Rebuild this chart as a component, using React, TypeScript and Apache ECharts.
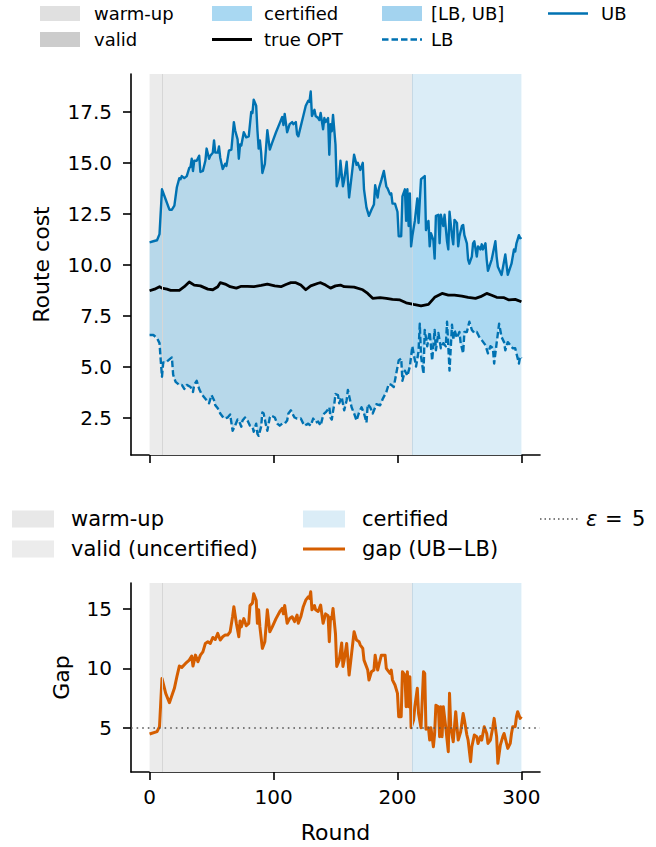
import React, { useEffect, useRef } from 'react';
import * as echarts from 'echarts';

// ---------- data ----------
const xTicks = [0, 100, 200, 300];
const costTicks = [2.5, 5, 7.5, 10, 12.5, 15, 17.5];
const gapTicks = [5, 10, 15];

const warmupEnd = 10;
const certifiedStart = 212;
const lastRound = 300;
const epsilon = 5;

const ubRound = [0, 3, 6, 8, 10, 13, 16, 18, 20, 22, 24, 25, 26, 28, 30, 32, 33, 34, 35, 36, 38, 40, 41, 43, 45, 46, 48, 49, 51, 52, 53, 55, 56, 57, 59, 61, 62, 64, 66, 68, 69, 71, 72, 73, 74, 76, 78, 80, 82, 83, 84, 86, 87, 88, 89, 90, 91, 93, 95, 97, 99, 102, 105, 107, 108, 109, 111, 113, 115, 116, 118, 119, 120, 122, 124, 126, 128, 129, 130, 131, 133, 134, 136, 137, 138, 140, 141, 142, 144, 145, 146, 147, 148, 150, 151, 153, 154, 156, 157, 159, 161, 163, 165, 167, 168, 170, 172, 173, 175, 177, 179, 181, 182, 184, 185, 187, 189, 191, 192, 194, 195, 196, 198, 200, 201, 203, 204, 206, 207, 208, 209, 210, 211, 212, 214, 216, 217, 219, 221, 222, 223, 225, 226, 227, 229, 230, 231, 233, 234, 235, 237, 238, 240, 241, 242, 244, 245, 246, 248, 249, 250, 252, 253, 254, 256, 257, 258, 260, 261, 262, 264, 265, 267, 268, 269, 271, 272, 273, 276, 279, 280, 281, 284, 287, 289, 292, 294, 295, 296, 298, 299, 300];
const ubValue = [11.1, 11.15, 11.2, 11.5, 13.7, 13.2, 12.7, 12.7, 12.9, 13.8, 14.25, 14.2, 14.35, 14.25, 14.35, 14.75, 14.8, 15.2, 14.6, 15.1, 15.1, 15.35, 14.55, 14.6, 15.1, 15.7, 15.2, 15.35, 15.5, 16.1, 15.5, 15.5, 15.8, 15.25, 14.7, 14.95, 14.85, 15.6, 15.65, 17.0, 16.6, 16.15, 15.2, 15.9, 15.85, 16.5, 16.25, 16.3, 17.5, 17.45, 18.1, 17.8, 16.6, 15.7, 16.1, 15.5, 14.5, 14.95, 16.6, 15.65, 16.0, 16.5, 16.95, 17.25, 16.85, 17.4, 16.5, 16.9, 17.0, 16.9, 17.0, 16.4, 16.3, 16.8, 17.3, 17.8, 18.05, 18.0, 18.5, 17.3, 17.6, 17.3, 17.2, 17.1, 17.45, 16.65, 17.2, 17.0, 17.2, 15.4, 16.9, 16.55, 17.35, 15.9, 13.85, 14.3, 15.1, 13.85, 14.15, 15.05, 13.3, 14.35, 15.4, 14.9, 15.0, 14.65, 15.0, 13.7, 12.8, 12.4, 12.7, 12.95, 13.9, 13.3, 13.75, 14.15, 14.6, 13.85, 13.75, 13.45, 13.5, 13.0, 13.0, 12.6, 11.4, 11.4, 13.35, 13.7, 12.15, 13.7, 11.9, 13.5, 10.9, 11.4, 12.15, 13.25, 12.05, 14.2, 14.3, 14.35, 11.7, 12.15, 10.9, 11.55, 11.2, 10.3, 12.4, 12.45, 11.05, 12.45, 11.9, 12.45, 11.15, 10.75, 12.6, 11.4, 11.0, 12.2, 12.05, 10.9, 11.4, 11.9, 11.95, 11.45, 11.05, 10.25, 10.05, 10.4, 11.05, 11.15, 10.4, 10.9, 10.75, 11.0, 10.75, 11.05, 10.25, 9.7, 10.25, 11.15, 10.4, 9.9, 9.5, 10.5, 9.5, 10.05, 10.75, 10.65, 11.05, 11.45, 11.3, 11.35];

const lbRound = [0, 3, 6, 8, 9, 10, 11, 13, 16, 18, 19, 21, 24, 26, 28, 30, 33, 35, 36, 38, 40, 42, 44, 46, 48, 50, 52, 53, 55, 57, 60, 63, 65, 67, 69, 71, 72, 74, 75, 77, 79, 81, 83, 84, 86, 87, 88, 90, 91, 92, 94, 95, 97, 98, 101, 103, 105, 107, 109, 111, 112, 114, 116, 117, 119, 122, 124, 125, 128, 130, 132, 134, 136, 138, 140, 141, 142, 144, 145, 146, 147, 148, 149, 150, 152, 153, 154, 155, 157, 159, 160, 163, 165, 167, 169, 171, 173, 175, 176, 178, 180, 183, 186, 188, 191, 193, 195, 197, 199, 201, 203, 204, 206, 208, 210, 212, 213, 215, 217, 218, 219, 221, 222, 224, 226, 228, 230, 231, 233, 235, 237, 239, 240, 242, 244, 245, 246, 248, 250, 251, 253, 254, 256, 258, 260, 262, 264, 266, 268, 271, 273, 275, 277, 278, 280, 282, 284, 286, 287, 289, 291, 293, 295, 296, 298, 299, 300];
const lbValue = [6.55, 6.55, 6.4, 6.15, 5.3, 4.5, 5.2, 5.2, 5.35, 5.45, 4.6, 4.25, 4.1, 4.1, 3.9, 4.1, 4.0, 3.75, 4.1, 4.3, 3.9, 3.65, 3.5, 3.35, 3.2, 3.6, 3.35, 3.1, 2.95, 2.7, 2.45, 2.5, 2.65, 1.85, 2.1, 2.4, 2.35, 2.05, 2.35, 2.5, 2.35, 2.1, 2.05, 1.8, 2.2, 1.7, 1.6, 2.05, 2.75, 2.7, 2.1, 1.85, 2.5, 2.6, 2.5, 2.2, 2.1, 2.2, 2.2, 2.35, 2.7, 2.85, 2.6, 2.5, 2.45, 2.45, 2.2, 2.1, 2.2, 2.1, 2.45, 2.25, 2.3, 2.1, 2.6, 2.7, 2.75, 2.9, 3.0, 2.5, 2.4, 2.8, 3.15, 3.65, 3.6, 3.2, 3.35, 3.5, 2.85, 3.35, 3.85, 3.0, 2.7, 2.35, 2.75, 3.0, 2.7, 2.25, 3.15, 3.0, 2.7, 3.15, 3.1, 3.4, 3.75, 4.15, 4.1, 4.0, 4.65, 5.3, 5.4, 4.3, 4.8, 4.55, 5.0, 6.0, 5.65, 5.0, 5.75, 7.1, 5.5, 4.65, 6.8, 6.0, 6.7, 5.3, 6.8, 5.8, 6.65, 5.9, 6.15, 6.0, 7.2, 4.8, 7.05, 6.3, 6.8, 6.4, 6.7, 6.15, 5.65, 6.7, 6.7, 7.2, 6.8, 6.65, 6.7, 6.45, 6.3, 6.05, 5.65, 6.0, 5.9, 5.15, 6.15, 7.1, 6.45, 6.2, 5.8, 6.2, 6.05, 5.9, 5.9, 5.65, 5.15, 5.5, 5.4];

const optRound = [0, 4, 8, 10, 14, 17, 24, 28, 32, 36, 41, 47, 51, 55, 57, 61, 65, 70, 74, 79, 84, 90, 95, 101, 106, 110, 114, 118, 122, 126, 130, 136, 138, 142, 146, 150, 154, 157, 165, 172, 176, 180, 186, 191, 196, 202, 207, 213, 219, 225, 230, 236, 241, 246, 252, 257, 263, 267, 272, 276, 280, 286, 290, 295, 300];
const optValue = [8.72, 8.8, 8.92, 8.85, 8.8, 8.74, 8.74, 8.92, 9.15, 9.0, 8.96, 8.8, 8.77, 8.92, 9.12, 9.05, 8.92, 8.85, 8.94, 8.94, 8.92, 8.98, 9.05, 8.96, 8.92, 9.03, 9.12, 9.12, 9.0, 8.77, 8.96, 9.09, 9.12, 9.0, 8.85, 8.96, 9.0, 8.92, 8.9, 8.77, 8.59, 8.35, 8.38, 8.35, 8.3, 8.27, 8.13, 8.05, 7.98, 8.05, 8.4, 8.59, 8.51, 8.51, 8.46, 8.4, 8.35, 8.43, 8.59, 8.5, 8.4, 8.38, 8.27, 8.3, 8.18];

const gapRound = [0, 6, 8, 10, 13, 16, 20, 22, 24, 26, 29, 32, 34, 35, 37, 39, 41, 43, 45, 47, 49, 51, 53, 55, 57, 59, 61, 63, 65, 67, 68, 70, 72, 73, 74, 76, 78, 80, 81, 83, 84, 86, 87, 88, 89, 91, 93, 95, 97, 99, 102, 105, 107, 108, 109, 111, 113, 115, 117, 119, 120, 122, 124, 126, 128, 129, 130, 131, 133, 134, 136, 137, 138, 140, 142, 144, 145, 146, 147, 148, 150, 151, 153, 155, 156, 157, 159, 161, 163, 165, 167, 169, 170, 172, 173, 176, 177, 179, 181, 182, 184, 186, 187, 190, 191, 192, 194, 195, 196, 198, 200, 201, 203, 204, 206, 207, 208, 209, 210, 211, 213, 214, 216, 217, 219, 221, 222, 223, 225, 226, 227, 229, 230, 231, 233, 234, 235, 236, 237, 239, 241, 242, 243, 245, 247, 248, 249, 251, 253, 254, 256, 257, 259, 260, 262, 264, 265, 267, 268, 270, 272, 273, 275, 277, 278, 280, 281, 283, 285, 286, 288, 289, 291, 292, 293, 295, 296, 297, 299, 300];
const gapValue = [4.47, 4.67, 5.09, 9.16, 7.9, 7.11, 8.32, 9.3, 10.2, 10.09, 10.42, 10.7, 11.04, 10.2, 11.12, 10.56, 11.12, 11.4, 12.11, 12.25, 12.11, 12.61, 12.44, 12.95, 12.39, 12.67, 12.81, 12.81, 13.09, 14.4, 15.2, 13.8, 12.67, 14.0, 13.5, 14.2, 13.6, 13.8, 15.3, 15.5, 16.3, 15.75, 13.8, 14.94, 13.5, 11.69, 12.25, 14.94, 13.09, 13.5, 14.2, 14.78, 15.06, 14.6, 15.3, 13.8, 14.2, 14.35, 13.95, 14.5, 13.8, 14.35, 15.2, 15.75, 16.03, 15.9, 16.46, 14.94, 15.3, 14.94, 14.8, 15.06, 15.34, 13.8, 14.6, 14.45, 12.25, 14.3, 14.2, 15.06, 12.9, 10.16, 10.7, 12.15, 10.16, 10.7, 12.11, 9.44, 11.27, 13.09, 12.39, 12.25, 11.97, 11.69, 10.7, 9.86, 9.02, 9.72, 9.86, 11.12, 9.86, 10.7, 11.12, 11.12, 10.0, 9.86, 9.58, 9.86, 9.02, 8.6, 7.9, 5.93, 5.93, 9.72, 9.44, 6.77, 9.72, 6.77, 9.3, 5.0, 5.65, 6.77, 8.32, 6.2, 5.0, 9.72, 9.58, 4.88, 5.0, 3.96, 5.0, 3.4, 4.5, 6.9, 6.77, 4.25, 6.77, 4.25, 6.77, 5.0, 2.98, 7.9, 5.09, 3.82, 6.35, 5.09, 3.96, 4.66, 6.2, 5.65, 4.39, 3.96, 2.14, 3.4, 4.39, 4.25, 3.68, 4.25, 3.96, 5.09, 4.52, 3.68, 3.96, 5.09, 5.79, 4.25, 2.0, 3.54, 4.25, 4.52, 3.68, 3.26, 3.68, 4.52, 5.09, 5.09, 5.93, 6.35, 5.79, 5.93];

// ---------- styling ----------
const FONT = 'DejaVu Sans';
const BLUE = '#0072B2';
const ORANGE = '#D55E00';
const GRAY_BG = '#ebebeb';
const CERT_BG = '#dbedf7';

const pairs = (xs: number[], ys: number[]) => xs.map((x, i) => [x, ys[i]]);

export default function App() {
  const ref = useRef<HTMLDivElement>(null);

  useEffect(() => {
    if (!ref.current) return;
    const chart = echarts.init(ref.current, null, { renderer: 'svg' });

    const ub = pairs(ubRound, ubValue);
    const lb = pairs(lbRound, lbValue);
    const opt = pairs(optRound, optValue);
    const gap = pairs(gapRound, gapValue);

    const spine = { color: '#000', width: 1.6 };

    const regionAreas = [
      [{ xAxis: 0, itemStyle: { color: GRAY_BG } }, { xAxis: warmupEnd }],
      [{ xAxis: warmupEnd, itemStyle: { color: GRAY_BG } }, { xAxis: certifiedStart }],
      [{ xAxis: certifiedStart, itemStyle: { color: CERT_BG } }, { xAxis: lastRound }],
    ];
    const regionLines = [
      { xAxis: warmupEnd, lineStyle: { color: '#d6d6d6', width: 1, type: 'solid' } },
      { xAxis: certifiedStart, lineStyle: { color: '#c6d9e5', width: 1, type: 'solid' } },
    ];

    const bgSeries = (idx: number) => ({
      type: 'line',
      xAxisIndex: idx,
      yAxisIndex: idx,
      data: [[150, idx === 0 ? 10 : 8]],
      symbol: 'none',
      lineStyle: { opacity: 0 },
      silent: true,
      z: 1,
      markArea: { silent: true, data: regionAreas },
      markLine: { silent: true, symbol: 'none', label: { show: false }, data: regionLines },
    });

    const xAxisBase = (idx: number, labels: boolean) => ({
      gridIndex: idx,
      type: 'value',
      min: -15,
      max: 315,
      axisLine: { show: true, onZero: false, lineStyle: spine },
      axisTick: { show: true, length: 8, lineStyle: spine, customValues: xTicks },
      axisLabel: {
        show: labels,
        customValues: xTicks,
        fontSize: 20,
        fontFamily: FONT,
        color: '#000',
        margin: 15,
      },
      splitLine: { show: false },
    });

    const text = (x: number, y: number, s: string, size: number, extra: any = {}) => ({
      type: 'text',
      x,
      y,
      silent: true,
      style: {
        text: s,
        fontSize: size,
        fontFamily: FONT,
        fill: '#000',
        textAlign: 'left',
        textVerticalAlign: 'middle',
        ...(extra.style || {}),
      },
      ...(extra.el || {}),
    });
    const rect = (x: number, y: number, w: number, h: number, fill: string) => ({
      type: 'rect',
      silent: true,
      shape: { x, y, width: w, height: h },
      style: { fill },
    });
    const seg = (x1: number, x2: number, y: number, stroke: string, lw: number, dash?: number[]) => ({
      type: 'line',
      silent: true,
      shape: { x1, y1: y, x2, y2: y },
      style: { stroke, lineWidth: lw, lineDash: dash || null },
    });

    // top legend (4 columns x 2 rows)
    const tr1 = 13.5;
    const tr2 = 39.5;
    const tSz = 18;
    const topLegend = [
      rect(40, tr1 - 7.5, 40, 15, '#e0e0e0'),
      text(94, tr1, 'warm-up', tSz),
      rect(40, tr2 - 7.5, 40, 15, '#cccccc'),
      text(94, tr2, 'valid', tSz),
      rect(212, tr1 - 7.5, 40, 15, '#a9d8f2'),
      text(264, tr1, 'certified', tSz),
      seg(212, 252, tr2, '#000', 2.8),
      text(264, tr2, 'true OPT', tSz),
      rect(382, tr1 - 7.5, 40, 15, '#a3d3ef'),
      text(431, tr1, '[LB, UB]', tSz),
      seg(382, 422, tr2, BLUE, 2.4, [6.5, 3]),
      text(431, tr2, 'LB', tSz),
      seg(548, 588, tr1, BLUE, 2.4),
      text(601, tr1, 'UB', tSz),
    ];

    // bottom legend (3 columns x 2 rows)
    const br1 = 519;
    const br2 = 549;
    const bSz = 21;
    const bottomLegend = [
      rect(12, br1 - 8.5, 42, 17, '#e8e8e8'),
      text(71, br1, 'warm-up', bSz),
      rect(12, br2 - 8.5, 42, 17, '#ececec'),
      text(71, br2, 'valid (uncertified)', bSz),
      rect(303, br1 - 8.5, 42, 17, CERT_BG),
      text(362, br1, 'certified', bSz),
      seg(303, 345, br2, ORANGE, 3),
      text(362, br2, 'gap (UB\u2212LB)', bSz),
      seg(540, 579, br1, '#555555', 1.5, [1.5, 3]),
      text(586, br1, '\u03b5', bSz, { style: { fontStyle: 'italic' } }),
      text(605, br1, '=', bSz),
      text(632, br1, '5', bSz),
    ];

    const axisTitles = [
      text(41, 264.5, 'Route cost', 22, {
        style: { textAlign: 'center' },
        el: { rotation: Math.PI / 2 },
      }),
      text(61, 677.5, 'Gap', 22, {
        style: { textAlign: 'center' },
        el: { rotation: Math.PI / 2 },
      }),
      text(335.5, 832, 'Round', 22, { style: { textAlign: 'center' } }),
    ];

    const option: any = {
      animation: false,
      backgroundColor: '#ffffff',
      textStyle: { fontFamily: FONT },
      grid: [
        { left: 131, top: 74, width: 409, height: 381 },
        { left: 131, top: 583, width: 409, height: 189 },
      ],
      xAxis: [xAxisBase(0, false), xAxisBase(1, true)],
      yAxis: [
        {
          gridIndex: 0,
          type: 'value',
          min: 0.66,
          max: 19.36,
          axisLine: { show: true, onZero: false, lineStyle: spine },
          axisTick: { show: true, length: 8, lineStyle: spine, customValues: costTicks },
          axisLabel: {
            customValues: costTicks,
            formatter: (v: number) => v.toFixed(1),
            fontSize: 20,
            fontFamily: FONT,
            color: '#000',
            margin: 19,
          },
          splitLine: { show: false },
        },
        {
          gridIndex: 1,
          type: 'value',
          min: 1.27,
          max: 17.2,
          axisLine: { show: true, onZero: false, lineStyle: spine },
          axisTick: { show: true, length: 8, lineStyle: spine, customValues: gapTicks },
          axisLabel: {
            customValues: gapTicks,
            formatter: (v: number) => String(v),
            fontSize: 20,
            fontFamily: FONT,
            color: '#000',
            margin: 19,
          },
          splitLine: { show: false },
        },
      ],
      series: [
        bgSeries(0),
        {
          type: 'custom',
          xAxisIndex: 0,
          yAxisIndex: 0,
          silent: true,
          z: 2,
          data: [[150, 10]],
          renderItem: (_params: any, api: any) => {
            const pts = [
              ...ub.map((p) => api.coord(p)),
              ...lb.slice().reverse().map((p) => api.coord(p)),
            ];
            return {
              type: 'polygon',
              shape: { points: pts },
              style: { fill: 'rgba(86,180,233,0.35)', stroke: null },
            };
          },
        },
        {
          type: 'line',
          name: 'true OPT',
          xAxisIndex: 0,
          yAxisIndex: 0,
          data: opt,
          symbol: 'none',
          silent: true,
          z: 4,
          lineStyle: { color: '#000', width: 2.8, join: 'round' },
        },
        {
          type: 'line',
          name: 'UB',
          xAxisIndex: 0,
          yAxisIndex: 0,
          data: ub,
          symbol: 'none',
          silent: true,
          z: 5,
          lineStyle: { color: BLUE, width: 2.4, join: 'round' },
        },
        {
          type: 'line',
          name: 'LB',
          xAxisIndex: 0,
          yAxisIndex: 0,
          data: lb,
          symbol: 'none',
          silent: true,
          z: 5,
          lineStyle: { color: BLUE, width: 2.4, type: [6.5, 3], cap: 'butt', join: 'round' },
        },
        bgSeries(1),
        {
          type: 'line',
          name: 'gap (UB\u2212LB)',
          xAxisIndex: 1,
          yAxisIndex: 1,
          data: gap,
          symbol: 'none',
          silent: true,
          z: 4,
          lineStyle: { color: ORANGE, width: 3, join: 'round' },
        },
        {
          type: 'line',
          xAxisIndex: 1,
          yAxisIndex: 1,
          data: [[150, epsilon]],
          symbol: 'none',
          lineStyle: { opacity: 0 },
          silent: true,
          z: 6,
          markLine: {
            silent: true,
            symbol: 'none',
            label: { show: false },
            data: [{ yAxis: epsilon, lineStyle: { color: '#555555', width: 1.6, type: [1.6, 4] } }],
          },
        },
      ],
      graphic: [...topLegend, ...bottomLegend, ...axisTitles],
    };

    chart.setOption(option);
    return () => chart.dispose();
  }, []);

  return (
    <div
      ref={ref}
      style={{ position: 'absolute', left: 0, top: 0, width: 656, height: 847 }}
    />
  );
}
